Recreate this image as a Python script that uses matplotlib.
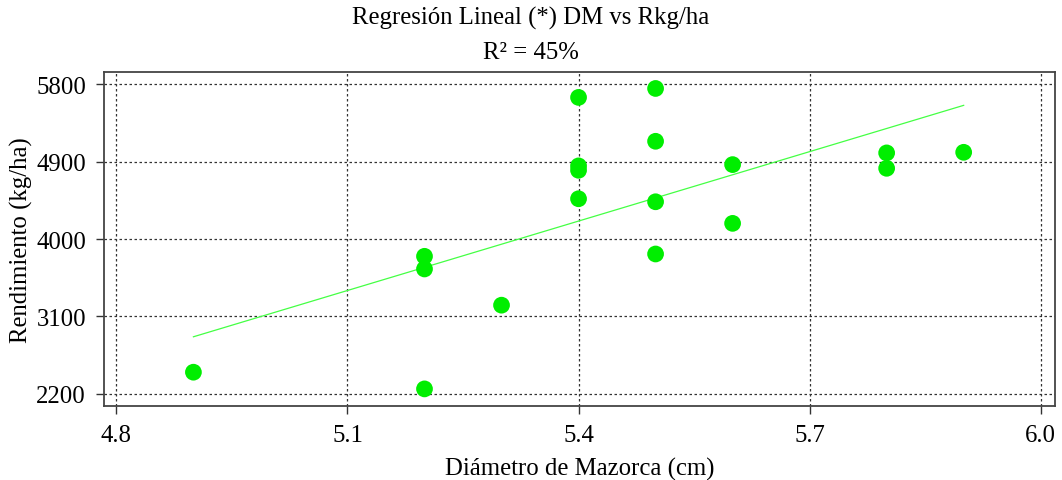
import numpy as np
import matplotlib.pyplot as plt

# Datos
diametro = [4.9, 5.2, 5.2, 5.2, 5.3, 5.4, 5.4, 5.4, 5.4, 5.5, 5.5, 5.5, 5.5, 5.6, 5.6, 5.8, 5.8, 5.9]
rendimiento = [2452, 3799, 3652, 2258, 3231, 5646, 4850, 4799, 4468, 5750, 5136, 4433, 3826, 4865, 4182, 5001, 4822, 5008]

xticks = [4.8, 5.1, 5.4, 5.7, 6.0]
yticks = [2200, 3100, 4000, 4900, 5800]

plt.rcParams['font.family'] = ['Liberation Serif', 'DejaVu Serif']
plt.rcParams['font.size'] = 17.8

fig = plt.figure(figsize=(10.62, 4.81), dpi=100)
ax = fig.add_axes([0.098, 0.154, 0.895, 0.694])

x = np.array(diametro)
y = np.array(rendimiento)

# Recta de regresión
b, a = np.polyfit(x, y, 1)
xl = np.array([x.min(), x.max()])
ax.plot(xl, a + b * xl, color='#44ff44', lw=0.9, zorder=2)

ax.scatter(x, y, s=145, color='#00ee00', edgecolors='none', zorder=3)

ax.set_xlim(4.784, 6.018)
ax.set_ylim(2060, 5940)
ax.set_xticks(xticks)
ax.set_xticklabels([f'{t:.1f}' for t in xticks])
ax.set_yticks(yticks)
ax.grid(True, linestyle=(0, (2, 2)), color='#333333', lw=0.9)
ax.tick_params(direction='out', length=6, width=1, color='#333333', pad=7)

for s in ax.spines.values():
    s.set_color('#444444')
    s.set_linewidth(1.3)

ax.set_xlabel('Diámetro de Mazorca (cm)', labelpad=8)
ax.set_ylabel('Rendimiento (kg/ha)', labelpad=2)

fig.text(0.5, 0.962, 'Regresión Lineal (*) DM vs Rkg/ha', ha='center', va='center')
fig.text(0.5, 0.89, 'R² = 45%', ha='center', va='center')

fig.savefig('out.png', dpi=100)
